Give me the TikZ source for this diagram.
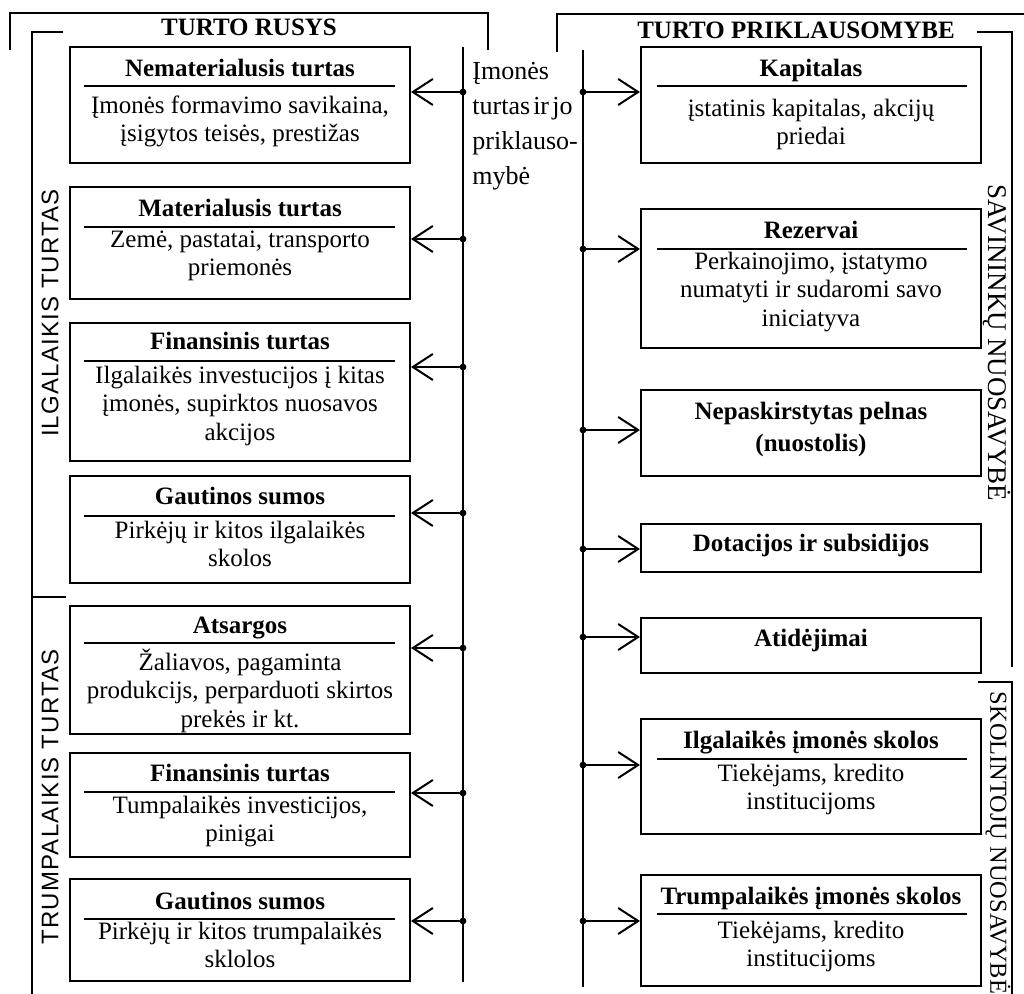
\documentclass[tikz,border=0pt]{standalone}
\usepackage{fontspec}
\setmainfont{Liberation Serif}
\newfontfamily\labsans[LetterSpace=5]{Liberation Sans}
\usetikzlibrary{arrows.meta,fit}

\tikzset{
  box/.style={draw, line width=1pt, inner sep=0pt},
  ttl/.style={anchor=base, font={\fontsize{12.5}{15}\selectfont\bfseries}, inner sep=0pt},
  ttlblock/.style={anchor=north, align=center, font={\fontsize{12.5}{16}\selectfont\bfseries}, inner sep=0pt},
  bodytxt/.style={anchor=north, align=center, font={\fontsize{12.5}{14.25}\selectfont}, inner sep=0pt},
  sepline/.style={line width=0.9pt},
  trunk/.style={line width=1pt},
  arr/.style={line width=1pt, -{Straight Barb[length=10pt,width=13pt,line width=1pt]}},
  bracket/.style={line width=0.9pt},
  jdot/.style={fill, circle, inner sep=0pt, minimum size=3.4pt},
  sidelab/.style={font={\labsans\fontsize{12}{14}\selectfont}, inner sep=0pt},
  head/.style={font={\fontsize{12.5}{15}\selectfont\bfseries}, inner sep=0pt}
}

% box with a bold title, a rule under it and a plain description
\newcommand\assetbox[8]{%
  \node[box, fit={(70,#2) (410,#3)}] (#1) {};
  \draw[sepline] (84,#4) -- (395,#4);
  \node[ttl] (#1-t) at (240,#5) {#7};
  \node[bodytxt] (#1-b) at (240,#6) {#8};
}
\newcommand\sourcebox[8]{%
  \node[box, fit={(641,#2) (981,#3)}] (#1) {};
  \draw[sepline] (657,#4) -- (967,#4);
  \node[ttl] (#1-t) at (811,#5) {#7};
  \node[bodytxt] (#1-b) at (811,#6) {#8};
}

\begin{document}
\begin{tikzpicture}[x=0.5pt,y=-0.5pt]
\useasboundingbox (0,0) rectangle (1024,994);

% group brackets and headings
\draw[bracket] (10,50) -- (10,13) -- (488,13) -- (488,50);
\node[head] (hL) at (249,27) {TURTO RUSYS};
\draw[bracket] (63,32) -- (32,32) -- (32,994);
\draw[bracket] (32,597) -- (66,597);
\draw[bracket] (557,52) -- (557,14) -- (1024,14);
\node[head] (hR) at (796,30) {TURTO PRIKLAUSOMYBE};
\draw[bracket] (977,32) -- (1012,32) -- (1012,667);
\draw[bracket] (978,682) -- (1012,682) -- (1012,994);

% side labels
\node[sidelab, rotate=90] (ilg) at (50,313) {ILGALAIKIS TURTAS};
\node[sidelab, rotate=90] (trp) at (50,797) {TRUMPALAIKIS TURTAS};
\node[rotate=-90, font={\fontsize{13.5}{15}\selectfont}, inner sep=0pt] (sav) at (997,343) {SAVININKŲ NUOSAVYBĖ};
\node[rotate=-90, font={\fontsize{12.2}{15}\selectfont}, inner sep=0pt] (skl) at (998,843) {SKOLINTOJŲ NUOSAVYBĖ};

% central caption
\node[anchor=north west, align=left, font={\fontsize{13}{17.5}\selectfont}, inner sep=0pt] (mid) at (472,62)
  {Įmonės\\turtas\hspace{.12em}ir\hspace{.12em}jo\\priklauso-\\mybė};

% trunks
\coordinate (ltop) at (463,47);
\coordinate (lbot) at (463,982);
\coordinate (rtop) at (583,50);
\coordinate (rbot) at (583,987);
\draw[trunk] (ltop) -- (lbot);
\draw[trunk] (rtop) -- (rbot);

% asset types
\assetbox{L1}{47}{163}{86}{77}{95.5}{Nematerialusis turtas}{Įmonės formavimo savikaina,\\įsigytos teisės, prestižas}
\assetbox{L2}{187}{299}{227}{217}{230.5}{Materialusis turtas}{Zemė, pastatai, transporto\\priemonės}
\assetbox{L3}{323}{461}{361}{350}{365.5}{Finansinis turtas}{Ilgalaikės investucijos į kitas\\įmonės, supirktos nuosavos\\akcijos}
\assetbox{L4}{476}{583}{516}{505}{520.5}{Gautinos sumos}{Pirkėjų ir kitos ilgalaikės\\skolos}
\assetbox{L5}{606}{734}{643}{634}{648.5}{Atsargos}{Žaliavos, pagaminta\\produkcijs, perparduoti skirtos\\prekės ir kt.}
\assetbox{L6}{753}{857}{792}{782}{795.5}{Finansinis turtas}{Tumpalaikės investicijos,\\pinigai}
\assetbox{L7}{879}{981}{919}{909}{921.5}{Gautinos sumos}{Pirkėjų ir kitos trumpalaikės\\sklolos}

% sources of assets
\sourcebox{R1}{47}{163}{86}{77}{98.5}{Kapitalas}{įstatinis kapitalas, akcijų\\priedai}
\sourcebox{R2}{209}{348}{249}{239}{251.5}{Rezervai}{Perkainojimo, įstatymo\\numatyti ir sudaromi savo\\iniciatyva}
\node[box, fit={(641,390) (981,476)}] (R3) {};
\node[ttlblock] (R3-t) at (811,401.5) {Nepaskirstytas pelnas\\(nuostolis)};
\node[box, fit={(641,524) (981,572)}] (R4) {};
\node[ttl] (R4-t) at (811,552) {Dotacijos ir subsidijos};
\node[box, fit={(641,618) (981,673)}] (R5) {};
\node[ttl] (R5-t) at (811,647) {Atidėjimai};
\sourcebox{R6}{719}{834}{759}{748}{763.5}{Ilgalaikės įmonės skolos}{Tiekėjams, kredito\\institucijoms}
\sourcebox{R7}{875}{986}{914}{904}{920.5}{Trumpalaikės įmonės skolos}{Tiekėjams, kredito\\institucijoms}

% branches
\foreach \n/\y in {L1/92, L2/239, L3/367, L4/513, L5/648, L6/793, L7/921} {
  \node[jdot] (j\n) at (463,\y) {};
  \draw[arr] (j\n.center) -- (j\n.center -| \n.east);
}
\foreach \n/\y in {R1/92, R2/249, R3/430, R4/549, R5/637, R6/765, R7/921} {
  \node[jdot] (j\n) at (583,\y) {};
  \draw[arr] (j\n.center) -- (j\n.center -| \n.west);
}
\end{tikzpicture}
\end{document}
